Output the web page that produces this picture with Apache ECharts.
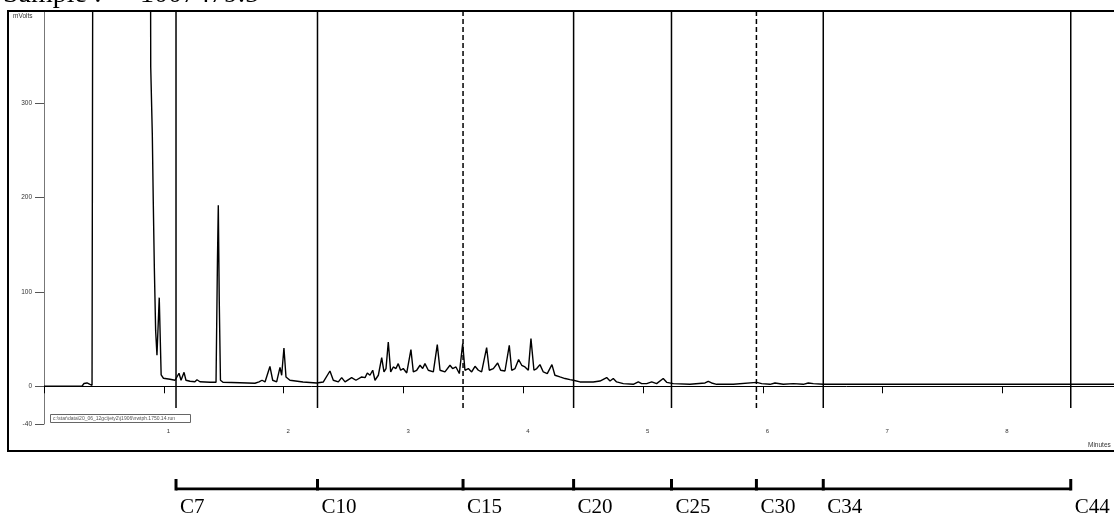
<!DOCTYPE html>
<html>
<head>
<meta charset="utf-8">
<script src="https://cdn.jsdelivr.net/npm/echarts@6.0.0/dist/echarts.min.js"></script>
<style>
    html, body { margin: 0; padding: 0; background: #fff; }
    #chart { width: 1114px; height: 520px; }
</style>
</head>
<body>
<div id="chart"></div>
<script>
// 色谱图数据 [分钟, mVolts]  溶剂峰超出量程 -> 用 1000 让它被裁掉
var trace = [
    [0, 0], [0.317, 0], [0.334, 3], [0.359, 3.5], [0.384, 2], [0.401, 1], [0.408, 1], [0.414, 1000],
    [0.880, 1000], [0.891, 338], [0.904, 268], [0.912, 197], [0.921, 126], [0.932, 59], [0.943, 33],
    [0.962, 94], [0.978, 12], [0.997, 8.5],
    [1.010, 8.5], [1.052, 7.4], [1.094, 6.4], [1.110, 6.4], [1.127, 13.8], [1.144, 6.4], [1.169, 14.8],
    [1.185, 6.4], [1.219, 5.3], [1.260, 4.8], [1.277, 6.9], [1.302, 4.8], [1.386, 4.2], [1.436, 4.2],
    [1.448, 134], [1.455, 192], [1.463, 91], [1.473, 6.4], [1.494, 4.2], [1.636, 3.7], [1.761, 3.2],
    [1.795, 4.6], [1.820, 6.4], [1.845, 4.6], [1.886, 21], [1.909, 6.4], [1.942, 4.6], [1.970, 20],
    [1.984, 11.7], [2.003, 40.6], [2.020, 9.9], [2.053, 6.4], [2.162, 4.6], [2.276, 3.5],
    [2.290, 4.6], [2.332, 4.6], [2.387, 16.2], [2.415, 6.4], [2.457, 4.6], [2.485, 9.2], [2.513, 4.6],
    [2.568, 9.2], [2.604, 6.4], [2.652, 9.9], [2.680, 9.2], [2.699, 14.1], [2.721, 11.7], [2.744, 17],
    [2.763, 6.4], [2.791, 11.7], [2.819, 30.4], [2.838, 15.2], [2.855, 18.8], [2.874, 47], [2.894, 15.2],
    [2.916, 20.5], [2.938, 18.8], [2.957, 24], [2.977, 17], [2.999, 18.8], [3.028, 14.1], [3.063, 38.9],
    [3.083, 15.2], [3.111, 17], [3.139, 22.3], [3.161, 18.8], [3.180, 24], [3.208, 17], [3.250, 15.2],
    [3.283, 44.2], [3.306, 17], [3.347, 15.2], [3.389, 22.3], [3.411, 18.8], [3.439, 20.5], [3.467, 13.5],
    [3.495, 45.3], [3.514, 17], [3.542, 18.8], [3.570, 15.2], [3.598, 21.2], [3.626, 17], [3.653, 15.2],
    [3.695, 41], [3.717, 17], [3.751, 18.8], [3.787, 24.7], [3.812, 17], [3.848, 16.2], [3.884, 43.5],
    [3.904, 17], [3.932, 18.8], [3.962, 28.3], [3.988, 22.3], [4.015, 20.5], [4.043, 17], [4.065, 50.6],
    [4.090, 17], [4.113, 18.8], [4.140, 23], [4.168, 15.2], [4.201, 13.5], [4.240, 23], [4.265, 11.7],
    [4.307, 9.9], [4.349, 8.2], [4.391, 7.1], [4.419, 6.4],
    [4.432, 5.8], [4.474, 4.6], [4.585, 4.6], [4.641, 5.6], [4.697, 9.2], [4.725, 5.6], [4.752, 8.2],
    [4.780, 4.6], [4.836, 2.8], [4.919, 2.1], [4.961, 4.6], [4.989, 2.8], [5.031, 2.8], [5.073, 4.6],
    [5.114, 2.8], [5.169, 8.2], [5.198, 4.2], [5.253, 2.8], [5.392, 2.1], [5.518, 3.5], [5.545, 5.3],
    [5.573, 3.5], [5.615, 2.1], [5.754, 2.1], [5.949, 4.2], [5.991, 2.8], [6.060, 2.1], [6.102, 3.5],
    [6.171, 2.1], [6.255, 2.8], [6.338, 2.1], [6.380, 3.5], [6.422, 2.8], [6.505, 2.1], [6.755, 2.1],
    [6.770, 3.5], [6.789, 2.1], [8.932, 2.1]
];

// 碳数分段线 (分钟)
var markerTimes = [1.102, 2.283, 3.498, 4.421, 5.238, 5.947, 6.505, 8.571];
var markerDashed = [0, 0, 1, 0, 0, 1, 0, 0];
var carbonLabels = ["C7", "C10", "C15", "C20", "C25", "C30", "C34", "C44"];

// 刻度
var xTicks = [0, 1, 2, 3, 4, 5, 6, 7, 8];
var xTickLabels = [1, 2, 3, 4, 5, 6, 7, 8];
var yTicks = [-40, 0, 100, 200, 300];

var sampleTitle = "Sample :";
var sampleId = "1007479.5";
var filePath = "c:\\star\\data\\20_06_12gc\\jety2\\j1906\\nwtph.1750.14.run";

window.addEventListener("load", function () {
    var myChart = echarts.init(document.getElementById("chart"));

    var smallFont = "Liberation Sans";
    // 图在右边被裁掉: 1 分钟 = 119.8px, 画布右边界约 8.93 分钟
    var xMax = 8.932;

    var option = {
        animation: false,
        backgroundColor: "#fff",
        grid: [
            // 主图
            { left: 44, top: 11, width: 1070, height: 413 },
            // 底部 碳数括号
            { left: 44, top: 479, width: 1070, height: 10 }
        ],
        xAxis: [
            {
                type: "value",
                gridIndex: 0,
                min: 0,
                max: xMax,
                interval: 1,
                axisLine: { lineStyle: { color: "#000", width: 1 } },
                axisTick: {
                    customValues: xTicks,
                    length: 7,
                    lineStyle: { color: "#000" }
                },
                axisLabel: {
                    customValues: xTickLabels,
                    fontSize: 6,
                    fontFamily: smallFont,
                    color: "#333",
                    align: "left",
                    padding: [0, 0, 0, 3],
                    margin: 4
                },
                splitLine: { show: false }
            },
            {
                type: "value",
                gridIndex: 1,
                min: 0,
                max: xMax,
                show: false
            }
        ],
        yAxis: [
            {
                type: "value",
                gridIndex: 0,
                min: -40,
                max: 398,
                axisLine: { show: true, lineStyle: { color: "#777", width: 1 } },
                axisTick: {
                    customValues: yTicks,
                    length: 9,
                    lineStyle: { color: "#555" }
                },
                axisLabel: {
                    customValues: yTicks,
                    fontSize: 6.5,
                    fontFamily: smallFont,
                    color: "#333",
                    margin: 12
                },
                splitLine: { show: false }
            },
            {
                type: "value",
                gridIndex: 1,
                min: 0,
                max: 1,
                show: false
            }
        ],
        series: [
            {
                name: "signal",
                type: "line",
                xAxisIndex: 0,
                yAxisIndex: 0,
                data: trace,
                symbol: "none",
                clip: true,
                lineStyle: { color: "#000", width: 1.4 },
                z: 3
            },
            {
                // 竖直分段线
                name: "markers",
                type: "custom",
                xAxisIndex: 0,
                yAxisIndex: 0,
                data: markerTimes.map(function (t, i) { return [t, markerDashed[i]]; }),
                renderItem: function (params, api) {
                    var top = api.coord([api.value(0), 398]);
                    var bottom = api.coord([api.value(0), -23]);
                    return {
                        type: "line",
                        shape: { x1: top[0], y1: top[1], x2: bottom[0], y2: bottom[1] },
                        style: {
                            stroke: "#000",
                            lineWidth: 1.5,
                            lineDash: api.value(1) ? [5, 3] : null
                        }
                    };
                },
                z: 2
            },
            {
                // 括号横线
                name: "bracket",
                type: "line",
                xAxisIndex: 1,
                yAxisIndex: 1,
                data: [[markerTimes[0], 0], [markerTimes[markerTimes.length - 1], 0]],
                symbol: "none",
                lineStyle: { color: "#000", width: 3 }
            },
            {
                // 括号竖线 + 碳数标签
                name: "carbon",
                type: "custom",
                xAxisIndex: 1,
                yAxisIndex: 1,
                data: markerTimes.map(function (t) { return [t, 1]; }),
                renderItem: function (params, api) {
                    var top = api.coord([api.value(0), 1]);
                    var bottom = api.coord([api.value(0), -0.15]);
                    return {
                        type: "group",
                        children: [
                            {
                                type: "line",
                                shape: { x1: top[0], y1: top[1], x2: bottom[0], y2: bottom[1] },
                                style: { stroke: "#000", lineWidth: 3 }
                            },
                            {
                                type: "text",
                                x: top[0] + 4,
                                y: bottom[1] + 17,
                                style: {
                                    text: carbonLabels[params.dataIndex],
                                    font: '21px "Liberation Serif"',
                                    fill: "#000",
                                    align: "left",
                                    verticalAlign: "middle"
                                }
                            }
                        ]
                    };
                }
            }
        ],
        graphic: [
            {
                // 外框
                type: "rect",
                shape: { x: 8, y: 11, width: 1130, height: 440 },
                style: { fill: "none", stroke: "#000", lineWidth: 2 },
                z: 10
            },
            {
                type: "text",
                x: 3,
                y: -5,
                style: {
                    text: sampleTitle,
                    font: '28px "Liberation Serif"',
                    fill: "#000",
                    verticalAlign: "middle"
                }
            },
            {
                type: "text",
                x: 140,
                y: -5,
                style: {
                    text: sampleId,
                    font: '28px "Liberation Serif"',
                    fill: "#000",
                    verticalAlign: "middle"
                }
            },
            {
                type: "text",
                x: 13,
                y: 16,
                style: {
                    text: "mVolts",
                    font: '6.5px "Liberation Sans"',
                    fill: "#333",
                    verticalAlign: "middle"
                }
            },
            {
                type: "text",
                x: 1088,
                y: 445,
                style: {
                    text: "Minutes",
                    font: '6.5px "Liberation Sans"',
                    fill: "#333",
                    verticalAlign: "middle"
                }
            },
            {
                // 文件路径小框
                type: "group",
                z: 5,
                children: [
                    {
                        type: "rect",
                        shape: { x: 50.5, y: 414.5, width: 140, height: 8 },
                        style: { fill: "#fff", stroke: "#666", lineWidth: 1 }
                    },
                    {
                        type: "text",
                        x: 53,
                        y: 418.5,
                        style: {
                            text: filePath,
                            font: '5px "Liberation Sans"',
                            fill: "#555",
                            verticalAlign: "middle"
                        }
                    }
                ]
            }
        ]
    };

    myChart.setOption(option);

    window.addEventListener("resize", function () {
        myChart.resize();
    });
});
</script>
</body>
</html>
